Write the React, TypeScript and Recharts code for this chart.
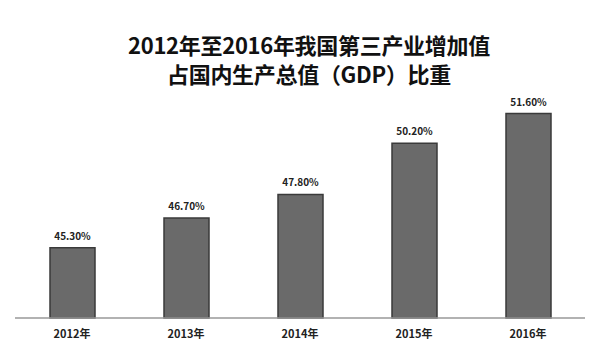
import { BarChart, Bar, XAxis, YAxis, LabelList } from "recharts"

const years = ["2012年", "2013年", "2014年", "2015年", "2016年"]
const shares = [45.3, 46.7, 47.8, 50.2, 51.6]

const data = years.map((year, i) => ({ year, share: shares[i] }))

const font = "'Noto Sans CJK SC', 'Noto Sans', sans-serif"

export default function App() {
  return (
    <div style={{ position: "absolute", left: 0, top: 0, width: 600, height: 360, background: "#fff", fontFamily: font }}>
      <div style={{ position: "absolute", top: 30, left: 0, width: 618, textAlign: "center", fontSize: 22, fontWeight: 700, lineHeight: "29px", color: "#111", letterSpacing: -0.3 }}>
        2012年至2016年我国第三产业增加值
        <br />
        占国内生产总值（GDP）比重
      </div>
      <BarChart width={600} height={360} data={data} margin={{ top: 105, right: 15, bottom: 12, left: 15 }} barSize={45}>
        <XAxis dataKey="year" height={30} tickLine={false} axisLine={{ stroke: "#999", strokeWidth: 1.5 }}
          tick={{ fontSize: 11, fontWeight: 700, fill: "#222", fontFamily: font }} tickMargin={6} interval={0} />
        <YAxis hide domain={[42, 52]} />
        <Bar dataKey="share" fill="#6a6a6a" stroke="#3a3a3a" strokeWidth={1.5} isAnimationActive={false}>
          <LabelList dataKey="share" position="top" offset={8} formatter={(v: number) => v.toFixed(2) + "%"}
            style={{ fontSize: 10, fontWeight: 700, fill: "#222", fontFamily: font }} />
        </Bar>
      </BarChart>
    </div>
  )
}
